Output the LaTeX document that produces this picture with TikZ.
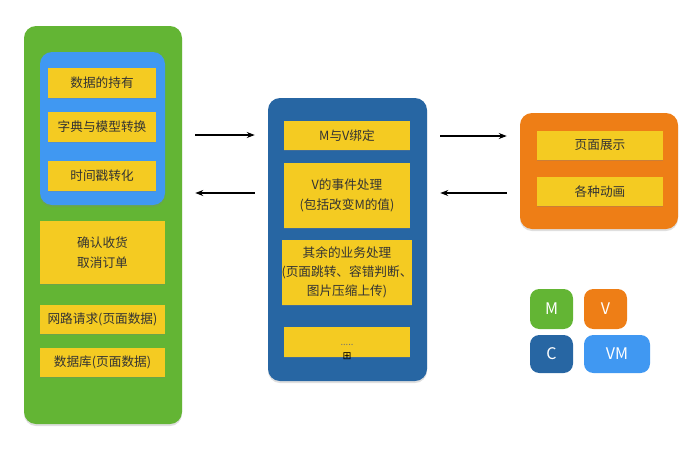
\documentclass[tikz,border=0pt]{standalone}
\usepackage{fontspec}
\setmainfont{Noto Sans CJK SC}
\newfontfamily\symfont{DejaVu Sans}
\definecolor{modelgreen}{RGB}{99,181,52}
\definecolor{lightblue}{RGB}{64,152,242}
\definecolor{darkblue}{RGB}{39,102,163}
\definecolor{vieworange}{RGB}{238,126,22}
\definecolor{boxyellow}{RGB}{244,203,34}
\usetikzlibrary{positioning,shapes,arrows.meta,calc,shadows}

\begin{document}
\begin{tikzpicture}[x=0.75pt,y=-0.75pt,
    panel/.style={rounded corners=9pt,inner sep=0pt,drop shadow={shadow xshift=0pt,shadow yshift=-1.5pt,opacity=0.25}},
    item/.style={fill=boxyellow,inner sep=0pt,align=center,text=black!80,
        font=\fontsize{9.5}{14.5}\selectfont,
        drop shadow={shadow xshift=0pt,shadow yshift=-1pt,opacity=0.3}},
    tag/.style={rounded corners=7pt,inner sep=0pt,text=white,font=\fontsize{12}{14}\selectfont},
    link/.style={-{Stealth[length=6pt,width=4.5pt]},line width=0.9pt,shorten >=9.75pt,shorten <=9.75pt}]
    \useasboundingbox (0,0) rectangle (700,461);
    % model side
    \node[panel,fill=modelgreen,minimum width=118.5pt,minimum height=298.5pt] (model) at (103,225) {};
    \node[panel,fill=lightblue,minimum width=93.75pt,minimum height=114.75pt] (trans) at (102.5,128.5) {};
    \node[item,minimum width=81pt,minimum height=22.5pt] (m1) at (102,83) {数据的持有};
    \node[item,minimum width=81pt,minimum height=22.5pt] (m2) at (102,127) {字典与模型转换};
    \node[item,minimum width=81pt,minimum height=22.5pt] (m3) at (102,176) {时间戳转化};
    \node[item,minimum width=93.75pt,minimum height=47.25pt] (m4) at (102.5,252.5) {确认收货\\取消订单};
    \node[item,minimum width=93.75pt,minimum height=21.75pt] (m5) at (102.5,319.5) {网路请求(页面数据)};
    \node[item,minimum width=93.75pt,minimum height=21.75pt] (m6) at (102.5,362.5) {数据库(页面数据)};
    % viewmodel
    \node[panel,fill=darkblue,minimum width=119.25pt,minimum height=212.25pt] (vm) at (347.5,239.5) {};
    \node[item,minimum width=94.5pt,minimum height=21.75pt] (bind) at (347,135.5) {M与V绑定};
    \node[item,minimum width=94.5pt,minimum height=48.75pt] (event) at (347,195.5) {V的事件处理\\(包括改变M的值)};
    \node[item,minimum width=94.5pt,minimum height=48.75pt] (other) at (347,272.5) {其余的业务处理\\(页面跳转、容错判断、\\图片压缩上传)};
    \node[item,minimum width=94.5pt,minimum height=22.5pt] (more) at (347,342) {};
    \node[text=black!55,font=\fontsize{7}{8}\selectfont] (dots) at (347,345) {.....};
    \node[inner sep=0pt,font=\symfont\fontsize{8}{8}\selectfont] (plus) at (347,356) {⊞};
    % view
    \node[panel,fill=vieworange,minimum width=118.5pt,minimum height=87pt] (view) at (599,171) {};
    \node[item,minimum width=94.5pt,minimum height=21.75pt] (v1) at (600,145.5) {页面展示};
    \node[item,minimum width=94.5pt,minimum height=21.75pt] (v2) at (600,191.5) {各种动画};
    % arrows
    \draw[link] (model.east |- 0,135) -- (vm.west |- 0,135);
    \draw[link] (vm.west |- 0,193) -- (model.east |- 0,193);
    \draw[link] (vm.east |- 0,136) -- (view.west |- 0,136);
    \draw[link] (view.west |- 0,193) -- (vm.east |- 0,193);
    % legend
    \node[tag,fill=modelgreen,minimum width=32.25pt,minimum height=30pt] (lm) at (551.5,309) {M};
    \node[tag,fill=vieworange,minimum width=32.25pt,minimum height=30pt] (lv) at (605.5,309) {V};
    \node[tag,fill=darkblue,minimum width=32.25pt,minimum height=28.5pt] (lc) at (551.5,354) {C};
    \node[tag,fill=lightblue,minimum width=49.5pt,minimum height=28.5pt] (lvm) at (617,354) {VM};
\end{tikzpicture}
\end{document}
